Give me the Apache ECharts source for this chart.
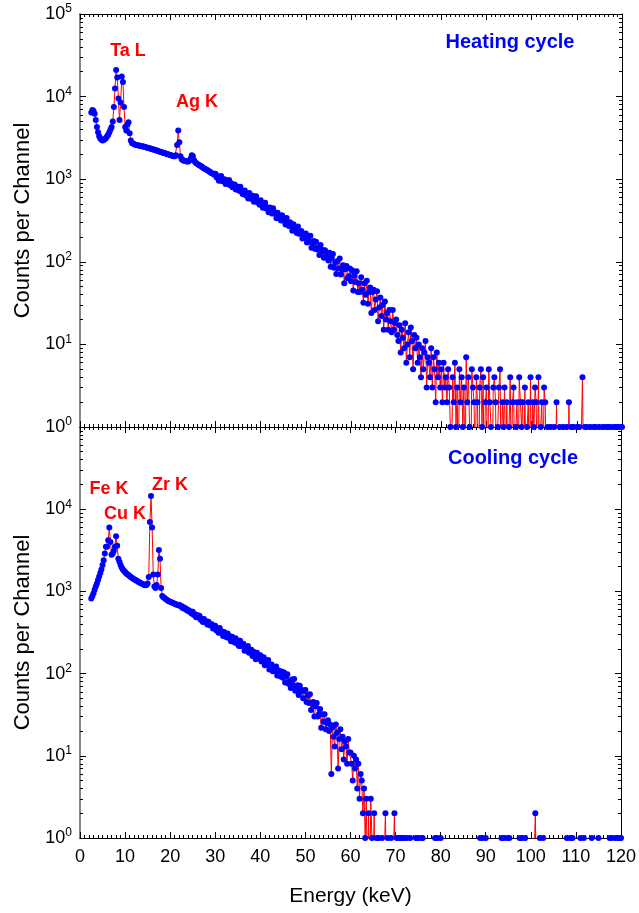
<!DOCTYPE html>
<html><head><meta charset="utf-8">
<script src="https://cdn.jsdelivr.net/npm/echarts@6/dist/echarts.min.js"></script>
<style>html,body{margin:0;padding:0;background:#fff}#c{width:639px;height:913px}</style>
</head><body><div id="c"></div>
<script>
// channel calibration (keV)
const E_START = 2.5, E_STEP = 0.25;

// Heating cycle counts per channel (0 = empty channel)
const heating = [
6400,6900,
6700,6200,5200,4300, 3700,3300,3100,3000, 2950,3000,3050,3150, 3300,3450,3700,4000,
4300,5000,7500,12500, 21000,17000,9500,5200, 8500,17500,15000,7500, 4300,3900,4600,4900,
3600,2950,2750,2700, 2650,2620,2600,2580, 2560,2540,2520,2500, 2480,2470,2440,2420,
2400,2380,2360,2330, 2310,2290,2270,2240, 2220,2200,2170,2150, 2130,2110,2080,2060,
2040,2020,2000,1980, 1960,1940,1920,1900, 1890,1950,2600,3900, 2800,1900,1750,1700,
1680,1660,1650,1640, 1640,1680,1780,1950, 1900,1700,1600,1560, 1530,1500,1470,1440,
1410,1380,1350,1330, 1300,1280,1250,1230, 1200,1180,1160,1130,
1166,1049,1084,961, 1027,1091,943,966, 997,877,936,884, 977,846,892,800, 837,863,751,779,
811,726,809,712, 661,719,732,636, 663,585,682,612, 575,629,534,593, 620,525,537,489,
556,488,452,501, 518,441,454,399, 455,416,385,446, 384,395,336,392, 343,357,317,365,
317,335,283,340, 290,271,301,277, 238,285,244,256, 223,268,219,225, 236,192,217,197,
220,171,195,175, 206,148,166,178, 144,175,141,148, 121,160,131,139, 112,138,112,120,
104,129,87,111, 124,85,98,71, 102,83,110,70, 81,91,55,81, 89,63,67,83,
58,79,45,68, 57,77,43,55, 43,65,46,32, 55,40,59,31, 43,49,24,43,
46,26,35,44, 19,28,37,22, 30,15,33,20, 24,15,26,19, 14,26,15,18,
20,13,11,17, 8,15,12,9, 18,6,10,14, 7,16,11,5, 13,9,12,6,
10,7,4,9, 5,8,11,3, 7,6,4,9, 3,7,5,2, 8,4,6,3,
5,2,6,3, 4,2,5,3, 1,0,4,2, 6,1,3,0, 5,2,4,1,
3,0,7,2, 4,1,0,5, 3,2,0,4, 2,0,3,5, 1,4,0,2,
3,0,5,2, 1,0,3,4, 2,0,1,3, 5,0,2,1, 3,0,2,0,
1,4,0,2, 3,0,1,2, 0,4,2,1, 2,0,3,0, 1,2,0,4,
0,2,1,3, 2,0,4,0, 1,2,0,3, 2,0,1,0, 0,1,0,0,
1,0,2,0, 0,1,0,0, 1,0,0,1, 0,2,0,1, 0,1,0,0,
1,0,1,0, 0,4,0,1, 0,1,0,0, 1,0,0,1, 0,1,0,0,
1,0,0,1, 0,0,1,0, 1,0,1,0, 0,1,0,1, 1,0,1,0,
1
];

// Cooling cycle counts per channel
const cooling = [
820,880,
950,1050,1150,1250, 1380,1520,1680,1850, 2100,2400,2900,3500, 3500,4200,6000,4000,
2800,2900,3100,3500, 4700,3600,2500,2300, 2100,1950,1850,1780, 1720,1660,1620,1580,
1540,1500,1470,1440, 1410,1380,1360,1330, 1300,1280,1260,1240, 1220,1200,1190,1200,
1250,1500,7000,14500, 6000,1600,1150,1100, 1200,1600,3200,2500, 1100,880,850,830,
810,790,770,760, 750,740,730,720, 710,700,690,685, 690,660,665,630,
640,610,620,585, 595,565,575,540,
567,518,528,486, 517,486,505,453, 462,425,461,425, 434,396,428,388, 392,399,353,372,
382,335,349,315, 359,315,325,287, 321,294,276,308, 271,284,247,281, 257,240,270,233,
252,216,251,216, 218,230,189,212, 191,217,179,189, 195,164,184,168, 150,179,154,161,
167,140,147,158, 126,142,129,146, 112,126,129,107, 115,107,122,95, 110,99,92,106,
89,103,78,92, 98,75,81,67, 85,72,86,62, 64,72,55,71, 60,63,50,62,
63,45,54,44, 56,36,43,45, 30,40,44,30, 32,37,22,32, 26,32,21,25,
27,20,24,6, 22,17,13,24, 19,7,16,21, 12,17,9,15, 13,8,16,11,
11,8,5,10, 7,9,4,8, 3,6,5,2, 4,1,3,0, 2,0,3,1,
0,2,0,1, 0,1,0,0, 1,0,0,2, 0,1,0,0, 1,0,0,2,
0,1,0,1, 0,1,1,0, 1,0,1,0, 0,1,0,0, 0,0,1,0,
1,0,0,1, 1,0,0,0, 0,0,0,0, 0,0,0,1, 0,1,0,0,
1,0,0,0, 0,0,0,0, 0,0,0,0, 0,0,0,0, 0,0,0,0,
0,0,0,0, 0,0,0,0, 0,0,0,0, 0,0,0,1, 0,1,0,0,
1,0,0,0, 0,0,0,0, 0,0,0,0, 0,0,1,0, 1,0,0,1,
0,1,0,0, 0,0,0,0, 0,0,1,0, 1,0,0,1, 0,0,0,0,
0,0,0,0, 2,0,0,0, 1,0,0,1, 0,0,0,0, 0,0,0,0,
0,0,0,0, 0,0,0,0, 0,0,0,0, 1,0,0,1, 0,1,0,0,
0,0,0,0, 1,0,0,1, 0,0,0,0, 0,0,1,0, 0,0,0,0,
1,0,0,0, 0,0,0,0, 0,0,1,0, 1,0,0,1, 0,1,0,1,
1
];

const yDecades = [1, 10, 100, 1000, 10000, 100000];
const yMinorTicks = [];
for (let d = 1; d < 100000; d *= 10) for (let k = 2; k <= 9; k++) yMinorTicks.push(k * d);

const annotationsTop = [
  {text: 'Ta L', x: 128, y: 51, color: '#ff0000', size: 18},
  {text: 'Ag K', x: 197, y: 102, color: '#ff0000', size: 18},
  {text: 'Heating cycle', x: 510, y: 42, color: '#0000ff', size: 20}
];
const annotationsBottom = [
  {text: 'Fe K', x: 109, y: 489, color: '#ff0000', size: 18},
  {text: 'Cu K', x: 125, y: 514, color: '#ff0000', size: 18},
  {text: 'Zr K', x: 170, y: 485, color: '#ff0000', size: 18},
  {text: 'Cooling cycle', x: 513, y: 458, color: '#0000ff', size: 20}
];

const FONT = '"Liberation Sans", Arial, sans-serif';
const toData = arr => arr.map((c, i) => [E_START + i * E_STEP, c > 0 ? c : 0.2]);

function xAx(grid, pos, labels) {
  return {
    type: 'value', gridIndex: grid, position: pos, min: 0, max: 120, interval: 10,
    axisLine: {show: true, onZero: false, lineStyle: {color: '#000', width: 1}},
    axisTick: {show: true, inside: true, length: 6, lineStyle: {color: '#000'}},
    minorTick: {show: true, splitNumber: 10, length: 3, lineStyle: {color: '#000'}},
    axisLabel: {show: labels, fontSize: 18, color: '#000', fontFamily: FONT, margin: 10},
    splitLine: {show: false},
    name: labels ? 'Energy (keV)' : '', nameLocation: 'middle', nameGap: 48,
    nameTextStyle: {fontSize: 21, color: '#000', fontFamily: FONT}
  };
}
function yAx(grid, pos, kind, labelVals, name) {
  const a = {
    type: 'log', logBase: 10, gridIndex: grid, position: pos, min: 1, max: 100000,
    splitLine: {show: false},
    axisLine: {show: kind === 'major', onZero: false,
      lineStyle: {color: pos === 'left' ? '#888' : '#000', width: pos === 'left' ? 2 : 1}},
    axisTick: kind === 'major'
      ? {show: true, inside: true, length: 6, customValues: yDecades, lineStyle: {color: '#000'}}
      : {show: true, inside: true, length: 3, customValues: yMinorTicks, lineStyle: {color: '#000'}},
    axisLabel: {show: false}
  };
  if (labelVals) {
    a.axisLabel = {
      show: true, customValues: labelVals, margin: 8,
      formatter: v => '{b|10}{s|' + Math.round(Math.log10(v)) + '}',
      rich: {
        b: {fontSize: 18, color: '#000', fontFamily: FONT},
        s: {fontSize: 12, color: '#000', fontFamily: FONT, padding: [0, 0, 10, 0]}
      }
    };
    a.name = name; a.nameLocation = 'middle'; a.nameGap = 46;
    a.nameTextStyle = {fontSize: 22, color: '#000', fontFamily: FONT};
  }
  return a;
}

const series = [
  {data: toData(heating), xAxisIndex: 0, yAxisIndex: 0},
  {data: toData(cooling), xAxisIndex: 2, yAxisIndex: 4}
].map(s => Object.assign({
  type: 'line', symbol: 'circle', symbolSize: 6, showSymbol: true, showAllSymbol: true,
  clip: true, itemStyle: {color: '#0000ff'}, lineStyle: {color: '#ff0000', width: 1},
  emphasis: {disabled: true}, silent: true
}, s));

const mkText = a => ({
  type: 'text', x: a.x, y: a.y, silent: true,
  style: {text: a.text, fill: a.color, font: 'bold ' + a.size + 'px ' + FONT,
    textAlign: 'center', textVerticalAlign: 'middle'}
});

const chart = echarts.init(document.getElementById('c'), null, {renderer: 'canvas'});
chart.setOption({
  animation: false,
  backgroundColor: '#fff',
  grid: [
    {left: 80, right: 17, top: 14, height: 413},
    {left: 80, right: 17, top: 427, height: 411}
  ],
  xAxis: [xAx(0, 'bottom', false), xAx(0, 'top', false), xAx(1, 'bottom', true), xAx(1, 'top', false)],
  yAxis: [
    yAx(0, 'left', 'major', yDecades, 'Counts per Channel'), yAx(0, 'left', 'minor'),
    yAx(0, 'right', 'major'), yAx(0, 'right', 'minor'),
    yAx(1, 'left', 'major', yDecades.slice(0, 5), 'Counts per Channel'), yAx(1, 'left', 'minor'),
    yAx(1, 'right', 'major'), yAx(1, 'right', 'minor')
  ],
  series: series,
  graphic: annotationsTop.concat(annotationsBottom).map(mkText)
});
</script></body></html>
